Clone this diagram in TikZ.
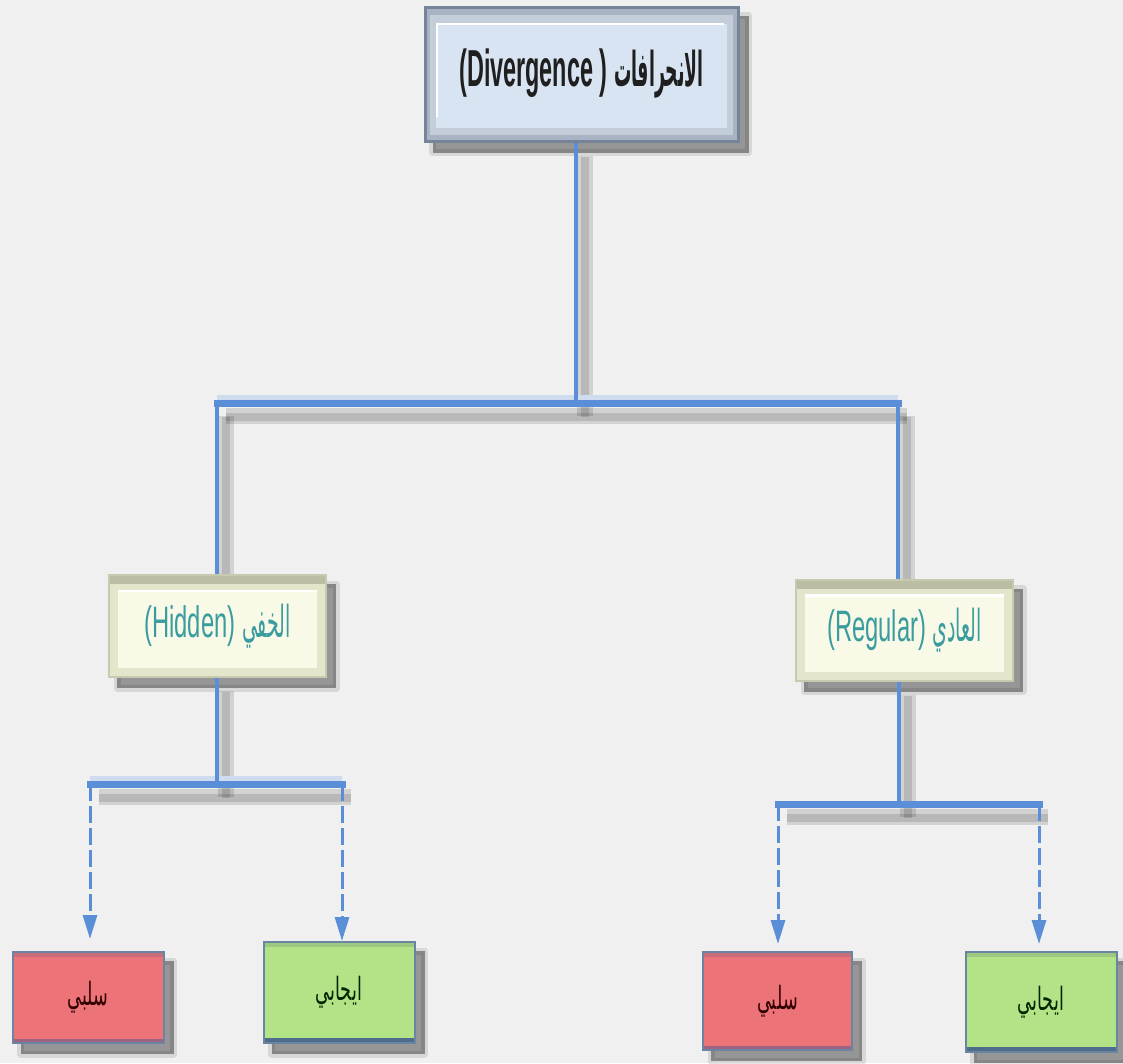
\documentclass[tikz,border=0pt]{standalone}
\usepackage{fontspec}
\usetikzlibrary{arrows.meta,calc}
\TeXXeTstate=1
\newfontfamily\latinB[FakeStretch=0.45]{Liberation Sans}
\newfontfamily\arabB[Script=Arabic,FakeStretch=0.36]{DejaVu Sans}
\newfontfamily\latinN[FakeStretch=0.54]{Liberation Sans}
\newfontfamily\arabN[Script=Arabic,FakeStretch=0.43]{DejaVu Sans}
\newfontfamily\arabS[Script=Arabic,FakeStretch=0.55]{DejaVu Sans}
\definecolor{bg}{HTML}{F0F0F0}
\definecolor{lineblue}{HTML}{5A8FD8}
\definecolor{linehalo}{HTML}{CFDBEE}
\definecolor{topfill}{HTML}{D8E4F2}
\definecolor{topframe}{HTML}{A8B4C4}
\definecolor{topframeB}{HTML}{C4CEDB}
\definecolor{topedge}{HTML}{76849A}
\definecolor{midfill}{HTML}{F8F9E7}
\definecolor{midframe}{HTML}{E4E6CC}
\definecolor{midband}{HTML}{BCBEA4}
\definecolor{midedge}{HTML}{C8CAB0}
\definecolor{tealtext}{HTML}{3A9C9E}
\definecolor{redfill}{HTML}{EC7479}
\definecolor{redband}{HTML}{C76E7A}
\definecolor{redbottom}{HTML}{9C6482}
\definecolor{greenfill}{HTML}{B3E387}
\definecolor{greenband}{HTML}{9CC880}
\definecolor{greenbottom}{HTML}{4E6C8C}
\definecolor{boxedge}{HTML}{6A84A2}
\pgfdeclarelayer{bgl}
\pgfdeclarelayer{shade}
\pgfdeclarelayer{lines}
\pgfsetlayers{bgl,shade,lines,main}
\tikzset{
  shadeA/.style={fill=black,opacity=0.10,draw=black,line width=7pt,line join=round,transform canvas={shift={(9pt,-10pt)}}},
  shadeB/.style={fill=black,opacity=0.30,transform canvas={shift={(9pt,-10pt)}}},
  topbox/.style={fill=topframe,draw=topedge,line width=3pt,
    minimum width=313pt,minimum height=134pt,inner sep=0pt,
    path picture={
      \fill[topframeB] ([shift={(5,8)}]path picture bounding box.north west) rectangle ([shift={(-5,-6)}]path picture bounding box.south east);
      \fill[topfill] ([shift={(11,17)}]path picture bounding box.north west) rectangle ([shift={(-11,-13)}]path picture bounding box.south east);
      \draw[white,line width=2.5pt] ([shift={(12,110)}]path picture bounding box.north west) -- ([shift={(12,17)}]path picture bounding box.north west) -- ([shift={(-14,17)}]path picture bounding box.north east);
    }},
  midbox/.style={fill=midframe,draw=midedge,line width=2pt,
    minimum width=217pt,minimum height=102pt,inner sep=0pt,
    path picture={
      \fill[midband] (path picture bounding box.north west) rectangle ([shift={(0,9)}]path picture bounding box.north east);
      \fill[midfill] ([shift={(9,15)}]path picture bounding box.north west) rectangle ([shift={(-9,-9)}]path picture bounding box.south east);
      \draw[white,line width=2.5pt] ([shift={(9,16)}]path picture bounding box.north west) -- ([shift={(-9,16)}]path picture bounding box.north east);
    }},
  leafbox/.style={draw=boxedge,line width=2pt,
    minimum width=151pt,inner sep=0pt,font=\fontsize{32}{36}\selectfont},
  redbox/.style={leafbox,fill=redfill,text=black!80!red,
    path picture={
      \fill[redband] (path picture bounding box.north west) rectangle ([shift={(0,5)}]path picture bounding box.north east);
      \fill[redbottom] ([shift={(0,-4)}]path picture bounding box.south west) rectangle (path picture bounding box.south east);
    }},
  greenbox/.style={leafbox,fill=greenfill,text=black!85!green,
    path picture={
      \fill[greenband] (path picture bounding box.north west) rectangle ([shift={(0,5)}]path picture bounding box.north east);
      \fill[greenbottom] ([shift={(0,-5)}]path picture bounding box.south west) rectangle (path picture bounding box.south east);
    }},
  trunk/.style={draw=lineblue,line width=4pt},
  bar/.style={draw=lineblue,line width=7pt,line cap=rect},
  halo/.style={draw=linehalo,line width=7pt,transform canvas={shift={(0pt,5pt)}}},
  lshadow/.style={draw=black,opacity=0.12,line width=16pt,transform canvas={shift={(9pt,-13pt)}}},
  lshadowB/.style={draw=black,opacity=0.12,line width=8pt,transform canvas={shift={(9pt,-14pt)}}},
  dashline/.style={draw=lineblue,line width=3pt,dash pattern=on 17pt off 5pt,
    -{Triangle[width=14pt,length=24pt]}},
}
\begin{document}
\begin{tikzpicture}[x=1pt,y=-1pt]
\begin{pgfonlayer}{bgl}
\fill[bg] (0,0) rectangle (1123,1063);
\end{pgfonlayer}
\useasboundingbox (0,0) rectangle (1123,1063);
% connector junctions
\coordinate (j1) at (576,403);
\coordinate (jl) at (217,403);
\coordinate (jr) at (898,403);
\coordinate (j2) at (217,784);
\coordinate (j2l) at (90,784);
\coordinate (j2r) at (342,784);
\coordinate (j3) at (899,804);
\coordinate (j3l) at (778,804);
\coordinate (j3r) at (1039,804);
% boxes
\node[topbox] (top) at (581.5,74) {\color{black!88}\fontsize{52}{58}\selectfont\bfseries\latinB (Divergence ) \fontsize{48}{52}\selectfont\arabB\beginR الانحرافات\endR};
\node[midbox] (hid) at (217.5,626) {\color{tealtext}\fontsize{44}{50}\selectfont\latinN (Hidden) \arabN\beginR الخفي\endR};
\node[midbox,minimum height=101pt] (reg) at (904.5,630) {\color{tealtext}\fontsize{44}{50}\selectfont\latinN (Regular) \arabN\beginR العادي\endR};
\node[redbox,minimum height=91pt] (rl) at (88,997.5) {\arabS\beginR سلبي\endR};
\node[greenbox,minimum height=101pt] (gl) at (339,992.5) {\arabS\beginR ايجابي\endR};
\node[redbox,minimum height=98pt,minimum width=149pt] (rr) at (777.5,1001) {\arabS\beginR سلبي\endR};
\node[greenbox,minimum height=100pt] (gr) at (1041,1002) {\arabS\beginR ايجابي\endR};
% box shadows
\begin{pgfonlayer}{shade}
\foreach \b in {top,hid,reg,rl,gl,rr,gr}{
  \path[shadeA] (\b.north west) rectangle (\b.south east);
  \path[shadeB] (\b.north west) rectangle (\b.south east);
}
\end{pgfonlayer}
\begin{pgfonlayer}{lines}
% line shadows
\foreach \s in {lshadow,lshadowB}{
  \draw[\s] (top.south -| j1) -- (j1);
  \draw[\s] (jl) -- (jr);
  \draw[\s] (jl) -- (hid.north -| jl);
  \draw[\s] (jr) -- (reg.north -| jr);
  \draw[\s] (hid.south -| j2) -- (j2);
  \draw[\s] (j2l) -- (j2r);
  \draw[\s] (reg.south -| j3) -- (j3);
  \draw[\s] (j3l) -- (j3r);
}
% halos
\draw[halo] (jl) -- (jr);
\draw[halo] (j2l) -- (j2r);
% solid connectors
\draw[trunk] (top.south -| j1) -- (j1);
\draw[trunk] (jl) -- (hid.north -| jl);
\draw[trunk] (jr) -- (reg.north -| jr);
\draw[bar] (jl) -- (jr);
\draw[trunk] (hid.south -| j2) -- (j2);
\draw[bar] (j2l) -- (j2r);
\draw[trunk] (reg.south -| j3) -- (j3);
\draw[bar] (j3l) -- (j3r);
% dashed arrows
\draw[dashline,shorten >=12pt] (j2l) -- (j2l |- rl.north);
\draw[dashline] (j2r) -- (j2r |- gl.north);
\draw[dashline,shorten >=7pt] (j3l) -- (j3l |- rr.north);
\draw[dashline,shorten >=7pt] (j3r) -- (j3r |- gr.north);
\end{pgfonlayer}
\end{tikzpicture}
\end{document}
